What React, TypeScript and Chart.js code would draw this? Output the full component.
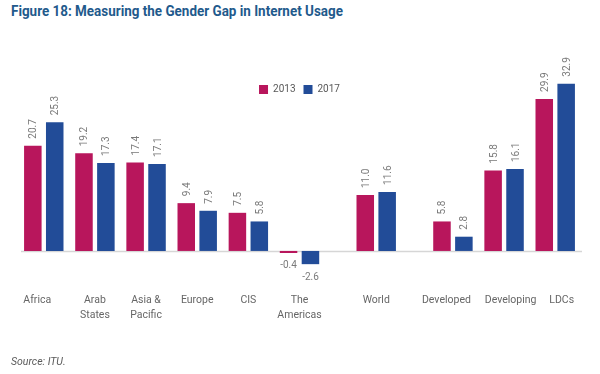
import React, { useEffect, useRef } from "react";
import { Chart, registerables } from "chart.js";

Chart.register(...registerables);

const categories: (string | string[])[] = [
  "Africa",
  ["Arab", "States"],
  ["Asia &", "Pacific"],
  "Europe",
  "CIS",
  ["The", "Americas"],
  "World",
  "Developed",
  "Developing",
  "LDCs",
];
const values2013 = [20.7, 19.2, 17.4, 9.4, 7.5, -0.4, 11.0, 5.8, 15.8, 29.9];
const values2017 = [25.3, 17.3, 17.1, 7.9, 5.8, -2.6, 11.6, 2.8, 16.1, 32.9];
// number of empty half-slots placed before each category (group spacing)
const blankSlotsBefore = [0, 1, 1, 1, 1, 1, 2, 2, 1, 1];

const seriesNames = ["2013", "2017"];
const seriesColors = ["#b8165c", "#224c98"];

function buildSlots() {
  const labels: (string | string[])[] = [];
  const d13: (number | null)[] = [];
  const d17: (number | null)[] = [];
  categories.forEach((c, i) => {
    for (let k = 0; k < blankSlotsBefore[i]; k++) {
      labels.push("");
      d13.push(null);
      d17.push(null);
    }
    labels.push(c);
    d13.push(values2013[i]);
    d17.push(values2017[i]);
  });
  return { labels, d13, d17 };
}

const FONT = "Roboto, 'Open Sans', sans-serif";
const NB = "\u00a0\u00a0\u00a0\u00a0\u00a0";

const zeroLinePlugin = {
  id: "zeroLine",
  beforeDatasetsDraw(chart: any) {
    const { ctx } = chart;
    const y = Math.round(chart.scales.y.getPixelForValue(0)) + 0.5;
    ctx.save();
    ctx.strokeStyle = "#d6d6d6";
    ctx.lineWidth = 1.5;
    ctx.beginPath();
    ctx.moveTo(chart.chartArea.left - 10, y);
    ctx.lineTo(chart.chartArea.right + 14, y);
    ctx.stroke();
    ctx.restore();
  },
};

const valueLabelPlugin = {
  id: "valueLabels",
  afterDatasetsDraw(chart: any) {
    const { ctx } = chart;
    ctx.save();
    ctx.fillStyle = "#7a7a7a";
    ctx.font = `10px ${FONT}`;
    chart.data.datasets.forEach((ds: any, i: number) => {
      const meta = chart.getDatasetMeta(i);
      meta.data.forEach((bar: any, j: number) => {
        const v = ds.data[j];
        if (v === null || v === undefined) return;
        const { x, y } = bar.getProps(["x", "y"], true);
        const txt = v.toFixed(1);
        if (v >= 0) {
          ctx.save();
          ctx.translate(x + 1, y - 7);
          ctx.rotate(-Math.PI / 2);
          ctx.textAlign = "left";
          ctx.textBaseline = "middle";
          ctx.fillText(txt, 0, 0);
          ctx.restore();
        } else {
          ctx.textAlign = "center";
          ctx.textBaseline = "middle";
          ctx.fillText(txt, x, y + 13);
        }
      });
    });
    ctx.restore();
  },
};

export default function App() {
  const ref = useRef<HTMLCanvasElement>(null);

  useEffect(() => {
    if (!ref.current) return;
    const { labels, d13, d17 } = buildSlots();
    const chart = new Chart(ref.current, {
      type: "bar",
      data: {
        labels,
        datasets: [
          {
            label: seriesNames[0],
            data: d13,
            backgroundColor: seriesColors[0],
            categoryPercentage: 1.713,
            barPercentage: 0.8,
            clip: false as any,
          },
          {
            label: seriesNames[1],
            data: d17,
            backgroundColor: seriesColors[1],
            categoryPercentage: 1.713,
            barPercentage: 0.8,
            clip: false as any,
          },
        ],
      },
      options: {
        animation: false,
        responsive: false,
        maintainAspectRatio: false,
        layout: { padding: { left: 31, right: 32, top: 76.5, bottom: 40 } },
        plugins: {
          legend: {
            position: "top",
            align: "center",
            labels: {
              boxWidth: 9,
              boxHeight: 9,
              padding: 8,
              color: "#595959",
              font: { family: FONT, size: 10 },
            },
          },
          tooltip: { enabled: false },
        },
        scales: {
          x: {
            grid: { display: false, drawTicks: false },
            border: { display: false },
            ticks: {
              autoSkip: false,
              maxRotation: 0,
              minRotation: 0,
              padding: 9,
              color: "#666666",
              font: { family: FONT, size: 10.5, lineHeight: "15px" as any },
              callback: function (this: any, _v: any, idx: number) {
                const l = this.chart.data.labels[idx];
                if (l === "Africa" || l === "Developed") return l + NB;
                if (l === "Developing" || l === "LDCs") return NB + l;
                return l;
              },
            },
            afterFit: (scale: any) => {
              scale.height = 50;
            },
          },
          y: {
            display: false,
            min: -6.5,
            max: 28.8,
          },
        },
      },
      plugins: [zeroLinePlugin, valueLabelPlugin],
    });
    return () => chart.destroy();
  }, []);

  return (
    <div
      style={{
        position: "fixed",
        left: 0,
        top: 0,
        width: 600,
        height: 374,
        background: "#ffffff",
        overflow: "hidden",
      }}
    >
      <div
        style={{
          position: "absolute",
          left: 11,
          top: 4,
          fontFamily: FONT,
          fontWeight: 700,
          fontSize: 14,
          lineHeight: "14px",
          color: "#1f5a8c",
          whiteSpace: "nowrap",
          transform: "scaleX(0.96)",
          transformOrigin: "left top",
        }}
      >
        Figure 18: Measuring the Gender Gap in Internet Usage
      </div>
      <canvas
        ref={ref}
        width={600}
        height={374}
        style={{ position: "absolute", left: 0, top: 0, width: 600, height: 374 }}
      />
      <div
        style={{
          position: "absolute",
          left: 11,
          top: 357,
          fontFamily: FONT,
          fontStyle: "italic",
          fontSize: 10.5,
          lineHeight: "10.5px",
          color: "#595959",
          whiteSpace: "nowrap",
        }}
      >
        Source: ITU.
      </div>
    </div>
  );
}
